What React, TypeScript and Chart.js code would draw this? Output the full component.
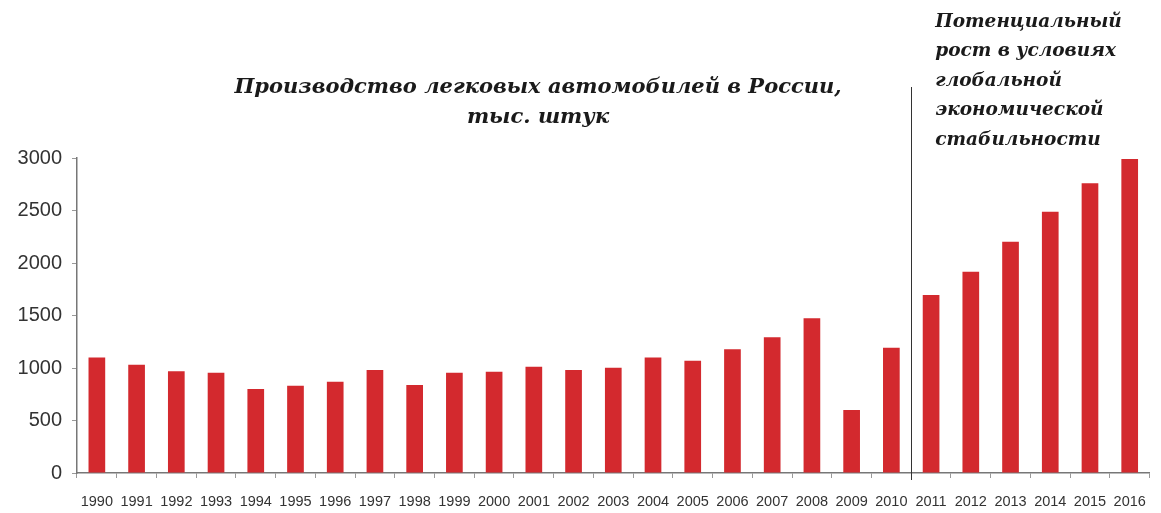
import React, { useEffect, useRef } from "react";
import { Chart, registerables } from "chart.js";

Chart.register(...registerables);

const years = [
  "1990", "1991", "1992", "1993", "1994", "1995", "1996", "1997", "1998", "1999",
  "2000", "2001", "2002", "2003", "2004", "2005", "2006", "2007", "2008", "2009",
  "2010", "2011", "2012", "2013", "2014", "2015", "2016",
];
const production = [
  1100, 1030, 970, 955, 800, 830, 870, 980, 838, 955,
  965, 1012, 980, 1003, 1100, 1070, 1178, 1292, 1473, 600,
  1193, 1695, 1917, 2203, 2488, 2759, 2990,
];
const yTicks = [0, 500, 1000, 1500, 2000, 2500, 3000];
const titleLines = ["Производство легковых автомобилей в России,", "тыс. штук"];
const noteLines = ["Потенциальный", "рост в условиях", "глобальной", "экономической", "стабильности"];
const forecastStartIndex = 21;

const textPlugin = {
  id: "texts",
  afterDraw(chart: any) {
    const ctx = chart.ctx;
    const x = chart.scales.x;
    ctx.save();
    // title
    ctx.fillStyle = "#1a1a1a";
    ctx.font = "bold italic 21px 'DejaVu Serif'";
    ctx.textAlign = "center";
    ctx.textBaseline = "middle";
    ctx.fillText(titleLines[0], 538, 88);
    ctx.fillText(titleLines[1], 538, 118);
    // separator line
    const sepX = (x.getPixelForValue(forecastStartIndex - 1) + x.getPixelForValue(forecastStartIndex)) / 2;
    ctx.strokeStyle = "#333";
    ctx.lineWidth = 1;
    ctx.beginPath();
    ctx.moveTo(Math.round(sepX) + 0.5, 87);
    ctx.lineTo(Math.round(sepX) + 0.5, 480);
    ctx.stroke();
    // note
    ctx.textAlign = "left";
    ctx.font = "bold italic 18.5px 'DejaVu Serif'";
    noteLines.forEach((l, i) => ctx.fillText(l, sepX + 24, 22 + i * 29.5));
    ctx.restore();
  },
};

export default function App() {
  const ref = useRef<HTMLCanvasElement>(null);
  useEffect(() => {
    const chart = new Chart(ref.current!, {
      type: "bar",
      data: {
        labels: years,
        datasets: [
          {
            data: production,
            backgroundColor: "#d3292e",
            barPercentage: 0.42,
            categoryPercentage: 1,
          },
        ],
      },
      options: {
        animation: false,
        responsive: false,
        devicePixelRatio: 1,
        layout: { padding: { top: 158, right: 9, left: 0, bottom: 0 } },
        plugins: { legend: { display: false }, tooltip: { enabled: false } },
        scales: {
          x: {
            grid: { display: true, drawOnChartArea: false, offset: true, tickLength: 5, color: "#999" },
            border: { color: "#777", width: 1.5 },
            ticks: {
              color: "#333",
              font: { family: "'Liberation Sans'", size: 14.5 },
              padding: 15,
              maxRotation: 0,
              autoSkip: false,
            },
            afterFit(scale: any) {
              scale.height = 40;
            },
          },
          y: {
            min: 0,
            max: 3000,
            afterBuildTicks(scale: any) {
              scale.ticks = yTicks.map((v) => ({ value: v }));
            },
            grid: { display: true, drawOnChartArea: false, tickLength: 5, color: "#999" },
            border: { color: "#777", width: 1.5 },
            ticks: {
              color: "#333",
              font: { family: "'Liberation Sans'", size: 20 },
              padding: 10,
              callback: (v: any) => String(v),
            },
            afterFit(scale: any) {
              scale.width = 77;
            },
          },
        },
      },
      plugins: [textPlugin],
    });
    return () => chart.destroy();
  }, []);
  return (
    <div style={{ position: "fixed", left: 0, top: 0, width: 1161, height: 513, background: "#fff" }}>
      <canvas ref={ref} width={1161} height={513} />
    </div>
  );
}
